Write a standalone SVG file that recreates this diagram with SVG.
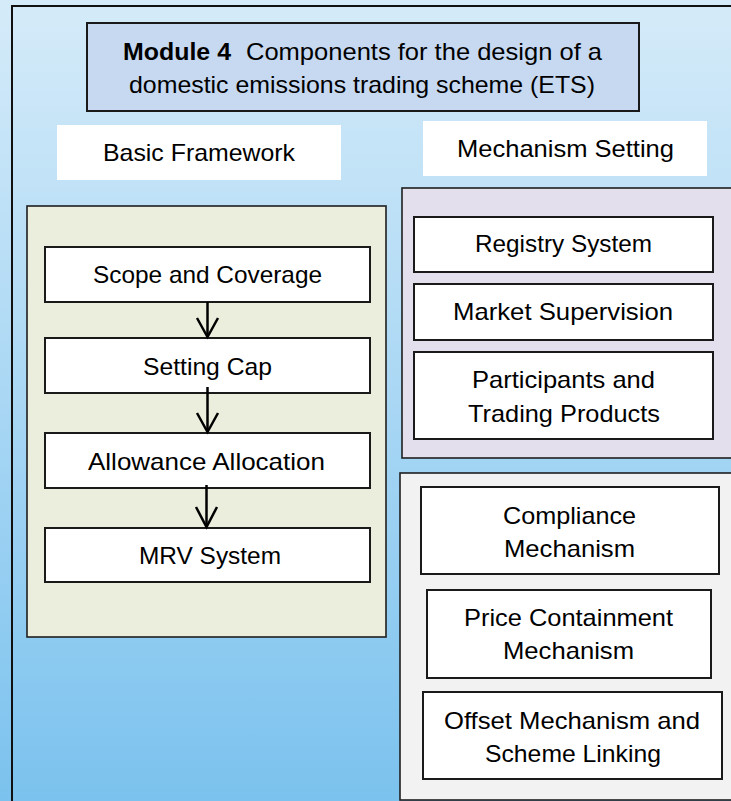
<svg xmlns="http://www.w3.org/2000/svg" width="731" height="801" viewBox="0 0 731 801">
  <defs>
    <linearGradient id="sky" x1="0" y1="0" x2="0" y2="1">
      <stop offset="0" stop-color="#d5ebf9"/>
      <stop offset="0.5" stop-color="#a9d7f4"/>
      <stop offset="1" stop-color="#7bc2ee"/>
    </linearGradient>
    <style>
      text { font-family: "Liberation Sans", Arial, sans-serif; font-size: 24px; fill: #000; }
      .box { fill: #ffffff; stroke: #1a1a1a; stroke-width: 2; }
      .label { fill: #ffffff; }
      .panel { stroke: #1f1f1f; stroke-width: 1.6; }
      .arrow { fill: none; stroke: #000; stroke-width: 2.5; stroke-linecap: butt; stroke-linejoin: miter; }
    </style>
  </defs>

  <!-- background and outer frame -->
  <rect x="0" y="0" width="731" height="801" fill="url(#sky)"/>
  <rect x="12" y="6" width="740" height="810" fill="none" stroke="#111" stroke-width="2"/>

  <!-- title -->
  <g id="title">
    <rect x="87" y="23" width="552" height="88" fill="#c6d9f1" stroke="#1a1a1a" stroke-width="2"/>
    <text x="123" y="60" font-weight="bold" textLength="108" lengthAdjust="spacingAndGlyphs">Module 4</text>
    <text x="246" y="60" textLength="356" lengthAdjust="spacingAndGlyphs">Components for the design of a</text>
    <text x="129" y="93" textLength="466" lengthAdjust="spacingAndGlyphs">domestic emissions trading scheme (ETS)</text>
  </g>

  <!-- section labels -->
  <g id="label-basic">
    <rect class="label" x="57" y="125" width="284" height="55"/>
    <text x="103" y="161" textLength="192" lengthAdjust="spacingAndGlyphs">Basic Framework</text>
  </g>
  <g id="label-mechanism">
    <rect class="label" x="423" y="121" width="284" height="55"/>
    <text x="457" y="157" textLength="217" lengthAdjust="spacingAndGlyphs">Mechanism Setting</text>
  </g>

  <!-- panels -->
  <rect id="panel-basic" class="panel" x="27" y="206" width="359" height="431" fill="#ebeedd"/>
  <rect id="panel-market" class="panel" x="402" y="188" width="340" height="270" fill="#e4dfec"/>
  <rect id="panel-control" class="panel" x="400" y="473" width="342" height="327" fill="#f2f2f2"/>

  <!-- basic framework chain -->
  <g id="scope">
    <rect class="box" x="45" y="247" width="325" height="55"/>
    <text x="93" y="283" textLength="229" lengthAdjust="spacingAndGlyphs">Scope and Coverage</text>
  </g>
  <g id="cap">
    <rect class="box" x="45" y="338" width="325" height="55"/>
    <text x="143" y="375" textLength="129" lengthAdjust="spacingAndGlyphs">Setting Cap</text>
  </g>
  <g id="allocation">
    <rect class="box" x="45" y="433" width="325" height="55"/>
    <text x="88" y="470" textLength="237" lengthAdjust="spacingAndGlyphs">Allowance Allocation</text>
  </g>
  <g id="mrv">
    <rect class="box" x="45" y="528" width="325" height="54"/>
    <text x="139" y="564" textLength="142" lengthAdjust="spacingAndGlyphs">MRV System</text>
  </g>

  <!-- market infrastructure -->
  <g id="registry">
    <rect class="box" x="414" y="217" width="299" height="55"/>
    <text x="475" y="252" textLength="177" lengthAdjust="spacingAndGlyphs">Registry System</text>
  </g>
  <g id="supervision">
    <rect class="box" x="414" y="284" width="299" height="56"/>
    <text x="453" y="320" textLength="220" lengthAdjust="spacingAndGlyphs">Market Supervision</text>
  </g>
  <g id="participants">
    <rect class="box" x="414" y="352" width="299" height="87"/>
    <text x="472" y="388" textLength="183" lengthAdjust="spacingAndGlyphs">Participants and</text>
    <text x="468" y="422" textLength="192" lengthAdjust="spacingAndGlyphs">Trading Products</text>
  </g>

  <!-- control mechanisms -->
  <g id="compliance">
    <rect class="box" x="421" y="487" width="298" height="87"/>
    <text x="503" y="524" textLength="133" lengthAdjust="spacingAndGlyphs">Compliance</text>
    <text x="504" y="557" textLength="131" lengthAdjust="spacingAndGlyphs">Mechanism</text>
  </g>
  <g id="price">
    <rect class="box" x="427" y="590" width="284" height="88"/>
    <text x="464" y="626" textLength="209" lengthAdjust="spacingAndGlyphs">Price Containment</text>
    <text x="503" y="659" textLength="131" lengthAdjust="spacingAndGlyphs">Mechanism</text>
  </g>
  <g id="offset">
    <rect class="box" x="423" y="692" width="299" height="87"/>
    <text x="444" y="729" textLength="256" lengthAdjust="spacingAndGlyphs">Offset Mechanism and</text>
    <text x="485" y="762" textLength="176" lengthAdjust="spacingAndGlyphs">Scheme Linking</text>
  </g>

  <!-- connectors -->
  <g id="connectors">
    <path class="arrow" d="M207.5 302 V336"/>
    <path class="arrow" d="M197 318 L207.5 337 L218 318"/>
    <path class="arrow" d="M207.5 387 V431"/>
    <path class="arrow" d="M197 413 L207.5 432 L218 413"/>
    <path class="arrow" d="M206.5 485 V526"/>
    <path class="arrow" d="M196 507 L206.5 527 L217 507"/>
  </g>
</svg>
